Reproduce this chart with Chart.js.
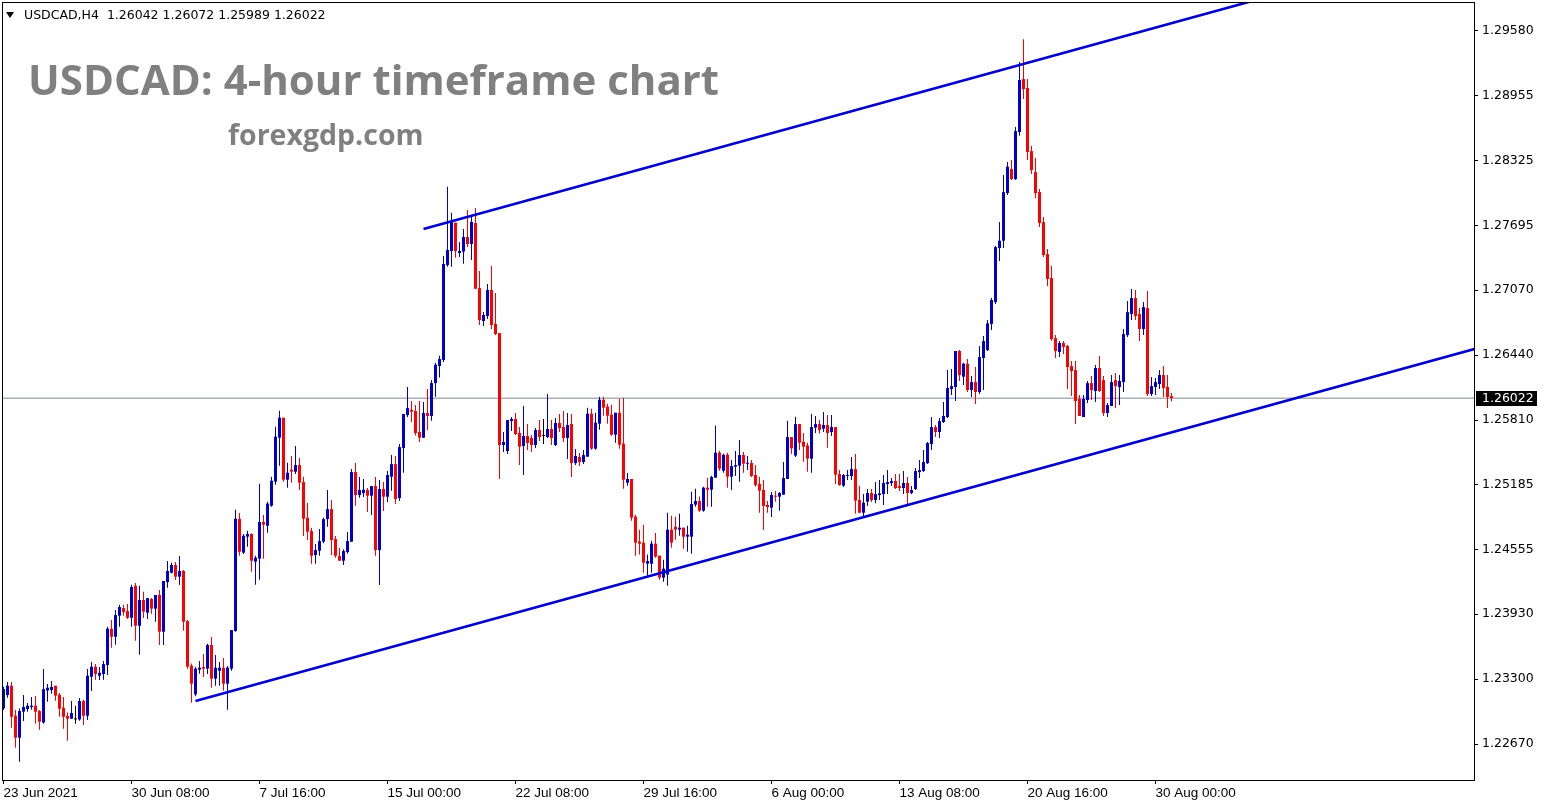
<!DOCTYPE html>
<html>
<head>
<meta charset="utf-8">
<title>USDCAD H4</title>
<script src="https://cdn.jsdelivr.net/npm/chart.js@4.4.1/dist/chart.umd.min.js"></script>
<style>
  html, body { margin: 0; padding: 0; background: #fff; }
  #wrap { position: relative; width: 1546px; height: 807px; overflow: hidden; }
  #chart { position: absolute; left: 0; top: 0; }
  .overlay { position: absolute; white-space: pre; line-height: 1; pointer-events: none; }
  #tri { left: 6px; top: 12px; width: 0; height: 0; border-left: 4px solid transparent; border-right: 4px solid transparent; border-top: 6px solid #000; }
  #header { left: 24px; top: 7px; font: 12.5px "DejaVu Sans", sans-serif; color: #000; }
  #title { left: 28px; top: 50px; font: bold 42px "Open Sans", sans-serif; color: #808080; }
  #site { left: 228px; top: 115px; font: bold 28.5px "Open Sans", sans-serif; color: #808080; }
</style>
</head>
<body>
<div id="wrap">
  <canvas id="chart" width="1546" height="807"></canvas>
  <div id="tri" class="overlay"></div>
  <div id="header" class="overlay"></div>
  <div id="title" class="overlay">USDCAD: 4-hour timeframe chart</div>
  <div id="site" class="overlay">forexgdp.com</div>
</div>
<script>
// USDCAD H4 candles, bar 0 = 23 Jun 2021
const opens = [
  1.23016, 1.23145, 1.23236, 1.22945, 1.22732, 1.22984, 1.23009, 1.23029, 1.23042, 1.22990,
  1.22880, 1.23190, 1.23194, 1.23236, 1.23148, 1.23022, 1.22942, 1.22916, 1.22909, 1.22909,
  1.23087, 1.22945, 1.23323, 1.23420, 1.23332, 1.23349, 1.23436, 1.23788, 1.23710, 1.23914,
  1.23988, 1.23959, 1.23894, 1.24204, 1.23817, 1.24066, 1.23943, 1.24076, 1.23982, 1.24115,
  1.23759, 1.24240, 1.24331, 1.24405, 1.24292, 1.24347, 1.23862, 1.23430, 1.23152, 1.23391,
  1.23417, 1.23401, 1.23630, 1.23304, 1.23381, 1.23410, 1.23255, 1.23401, 1.23766, 1.24854,
  1.24525, 1.24680, 1.24706, 1.24438, 1.24467, 1.24822, 1.24786, 1.24980, 1.25213, 1.25639,
  1.25833, 1.25232, 1.25329, 1.25309, 1.25374, 1.25209, 1.24863, 1.24734, 1.24502, 1.24544,
  1.24631, 1.24850, 1.24947, 1.24657, 1.24492, 1.24447, 1.24531, 1.24631, 1.25306, 1.25083,
  1.25102, 1.25132, 1.25077, 1.25170, 1.24550, 1.25141, 1.25067, 1.25261, 1.25383, 1.25054,
  1.25538, 1.25858, 1.25910, 1.25897, 1.25694, 1.25639, 1.25878, 1.25849, 1.26168, 1.26333,
  1.26392, 1.27312, 1.27448, 1.27723, 1.27429, 1.27442, 1.27584, 1.27516, 1.27719, 1.27089,
  1.26770, 1.26818, 1.27070, 1.26741, 1.26653, 1.25568, 1.25510, 1.25801, 1.25820, 1.25685,
  1.25559, 1.25655, 1.25636, 1.25568, 1.25714, 1.25655, 1.25646, 1.25723, 1.25568, 1.25781,
  1.25743, 1.25636, 1.25772, 1.25393, 1.25452, 1.25403, 1.25455, 1.25872, 1.25533, 1.25775,
  1.26007, 1.25940, 1.25862, 1.25668, 1.25881, 1.25581, 1.25203, 1.25239, 1.24874, 1.24632,
  1.24622, 1.24418, 1.24418, 1.24612, 1.24496, 1.24283, 1.24312, 1.24748, 1.24777, 1.24748,
  1.24767, 1.24680, 1.24680, 1.24990, 1.25026, 1.24932, 1.25155, 1.25135, 1.25252, 1.25494,
  1.25319, 1.25474, 1.25261, 1.25358, 1.25368, 1.25471, 1.25387, 1.25394, 1.25277, 1.25190,
  1.25132, 1.24987, 1.24961, 1.25077, 1.25067, 1.25087, 1.25239, 1.25645, 1.25465, 1.25771,
  1.25600, 1.25562, 1.25436, 1.25736, 1.25771, 1.25726, 1.25762, 1.25694, 1.25742, 1.25287,
  1.25174, 1.25268, 1.25268, 1.25335, 1.25035, 1.24912, 1.25019, 1.25103, 1.25035, 1.25083,
  1.25093, 1.25190, 1.25200, 1.25219, 1.25170, 1.25151, 1.25200, 1.25103, 1.25142, 1.25306,
  1.25316, 1.25393, 1.25577, 1.25742, 1.25694, 1.25791, 1.25839, 1.26110, 1.26130, 1.26479,
  1.26230, 1.26356, 1.26101, 1.26178, 1.26081, 1.26411, 1.26488, 1.26740, 1.26953, 1.27477,
  1.27548, 1.28010, 1.28242, 1.28145, 1.28601, 1.29114, 1.29027, 1.28416, 1.28213, 1.28019,
  1.27728, 1.27418, 1.27186, 1.26604, 1.26469, 1.26556, 1.26527, 1.26333, 1.26294, 1.26014,
  1.25839, 1.26004, 1.26168, 1.26091, 1.26314, 1.26197, 1.25878, 1.25946, 1.26197, 1.26130,
  1.26178, 1.26633, 1.26837, 1.26992, 1.26837, 1.26692, 1.26895, 1.26062, 1.26130, 1.26159,
  1.26246, 1.26130, 1.26042
];
const highs = [
  1.23226, 1.23271, 1.23271, 1.23000, 1.23016, 1.23145, 1.23068, 1.23126, 1.23135, 1.23000,
  1.23397, 1.23252, 1.23281, 1.23236, 1.23164, 1.23126, 1.22977, 1.23087, 1.23042, 1.23116,
  1.23100, 1.23397, 1.23465, 1.23445, 1.23416, 1.23474, 1.23807, 1.23872, 1.23969, 1.24020,
  1.24020, 1.24027, 1.24214, 1.24230, 1.24204, 1.24146, 1.24085, 1.24085, 1.24115, 1.24163,
  1.24250, 1.24444, 1.24428, 1.24434, 1.24492, 1.24357, 1.23872, 1.23452, 1.23420, 1.23475,
  1.23543, 1.23643, 1.23708, 1.23533, 1.23465, 1.23504, 1.23427, 1.23775, 1.24941, 1.24909,
  1.24706, 1.24738, 1.24712, 1.24496, 1.25193, 1.24890, 1.25019, 1.25261, 1.25746, 1.25901,
  1.25833, 1.25397, 1.25461, 1.25558, 1.25442, 1.25261, 1.25006, 1.24767, 1.24608, 1.24754,
  1.24863, 1.25132, 1.25035, 1.24686, 1.24570, 1.24557, 1.24725, 1.25335, 1.25393, 1.25258,
  1.25238, 1.25151, 1.25170, 1.25258, 1.25229, 1.25209, 1.25316, 1.25471, 1.25461, 1.25577,
  1.25868, 1.26130, 1.25994, 1.25955, 1.25994, 1.25984, 1.26110, 1.26197, 1.26365, 1.26433,
  1.27400, 1.28071, 1.27819, 1.27723, 1.27535, 1.27661, 1.27845, 1.27777, 1.27865, 1.27254,
  1.26857, 1.27128, 1.27303, 1.27041, 1.26653, 1.25694, 1.25810, 1.25840, 1.25878, 1.25743,
  1.25946, 1.25772, 1.25665, 1.25733, 1.25810, 1.25820, 1.26062, 1.25810, 1.25830, 1.25869,
  1.25898, 1.25878, 1.25869, 1.25530, 1.25491, 1.25520, 1.25930, 1.25920, 1.25881, 1.26036,
  1.26036, 1.25969, 1.25959, 1.25881, 1.26017, 1.26027, 1.25297, 1.25239, 1.24893, 1.24748,
  1.24796, 1.24506, 1.24641, 1.24715, 1.24496, 1.24457, 1.24912, 1.24883, 1.24874, 1.24903,
  1.24767, 1.24786, 1.25116, 1.25145, 1.25068, 1.25164, 1.25252, 1.25271, 1.25756, 1.25513,
  1.25484, 1.25494, 1.25423, 1.25510, 1.25616, 1.25500, 1.25461, 1.25423, 1.25374, 1.25261,
  1.25229, 1.25025, 1.25113, 1.25122, 1.25113, 1.25403, 1.25804, 1.25645, 1.25842, 1.25771,
  1.25684, 1.25591, 1.25868, 1.25849, 1.25810, 1.25888, 1.25859, 1.25859, 1.25742, 1.25326,
  1.25287, 1.25326, 1.25452, 1.25481, 1.25174, 1.25093, 1.25142, 1.25142, 1.25209, 1.25229,
  1.25277, 1.25325, 1.25248, 1.25287, 1.25287, 1.25316, 1.25258, 1.25170, 1.25345, 1.25422,
  1.25519, 1.25597, 1.25839, 1.25762, 1.25829, 1.25984, 1.26294, 1.26304, 1.26479, 1.26488,
  1.26365, 1.26401, 1.26236, 1.26324, 1.26527, 1.26624, 1.26779, 1.26992, 1.27496, 1.27729,
  1.28184, 1.28310, 1.28329, 1.28649, 1.29279, 1.29500, 1.29114, 1.28465, 1.28349, 1.28048,
  1.27777, 1.27467, 1.27302, 1.26633, 1.26575, 1.26575, 1.26537, 1.26381, 1.26381, 1.26052,
  1.26052, 1.26188, 1.26236, 1.26343, 1.26430, 1.26236, 1.25975, 1.26246, 1.26265, 1.26246,
  1.26692, 1.26963, 1.27079, 1.27070, 1.26895, 1.26953, 1.27060, 1.26227, 1.26217, 1.26294,
  1.26333, 1.26246, 1.26072
];
const lows = [
  1.23000, 1.23119, 1.22829, 1.22635, 1.22499, 1.22893, 1.22984, 1.23003, 1.22867, 1.22809,
  1.22867, 1.23081, 1.23158, 1.23090, 1.22935, 1.22819, 1.22702, 1.22916, 1.22867, 1.22896,
  1.22854, 1.22903, 1.23184, 1.23294, 1.23290, 1.23294, 1.23339, 1.23604, 1.23633, 1.23807,
  1.23914, 1.23881, 1.23807, 1.23672, 1.23536, 1.23891, 1.23881, 1.23934, 1.23856, 1.23630,
  1.23630, 1.24186, 1.24324, 1.24260, 1.24211, 1.23769, 1.23401, 1.23071, 1.23133, 1.23352,
  1.23320, 1.23349, 1.23217, 1.23236, 1.23236, 1.23188, 1.23003, 1.23381, 1.23759, 1.24496,
  1.24512, 1.24583, 1.24341, 1.24215, 1.24263, 1.24467, 1.24719, 1.24970, 1.25184, 1.25368,
  1.25213, 1.25155, 1.25203, 1.25287, 1.25132, 1.24686, 1.24647, 1.24418, 1.24418, 1.24495,
  1.24615, 1.24776, 1.24502, 1.24476, 1.24447, 1.24405, 1.24515, 1.24631, 1.24980, 1.25057,
  1.25064, 1.24918, 1.24889, 1.24495, 1.24211, 1.24928, 1.25015, 1.25125, 1.24996, 1.25025,
  1.25300, 1.25839, 1.25790, 1.25661, 1.25597, 1.25635, 1.25713, 1.25803, 1.26036, 1.26223,
  1.26372, 1.27296, 1.27296, 1.27383, 1.27390, 1.27325, 1.27487, 1.27361, 1.27077, 1.26731,
  1.26721, 1.26789, 1.26692, 1.26634, 1.25239, 1.25500, 1.25481, 1.25704, 1.25665, 1.25374,
  1.25277, 1.25520, 1.25500, 1.25539, 1.25607, 1.25578, 1.25636, 1.25568, 1.25559, 1.25694,
  1.25597, 1.25432, 1.25258, 1.25374, 1.25365, 1.25384, 1.25455, 1.25523, 1.25523, 1.25717,
  1.25852, 1.25775, 1.25659, 1.25591, 1.25533, 1.25145, 1.25174, 1.24835, 1.24496, 1.24506,
  1.24331, 1.24302, 1.24331, 1.24476, 1.24263, 1.24244, 1.24205, 1.24573, 1.24651, 1.24690,
  1.24564, 1.24535, 1.24515, 1.24971, 1.24922, 1.24922, 1.24971, 1.24971, 1.25252, 1.25319,
  1.25300, 1.25155, 1.25132, 1.25268, 1.25213, 1.25300, 1.25326, 1.25258, 1.25164, 1.24912,
  1.24744, 1.24912, 1.24870, 1.25019, 1.24932, 1.25087, 1.25239, 1.25481, 1.25452, 1.25520,
  1.25406, 1.25310, 1.25300, 1.25684, 1.25678, 1.25694, 1.25542, 1.25655, 1.25190, 1.25174,
  1.25161, 1.25229, 1.25229, 1.24903, 1.24906, 1.24880, 1.24977, 1.25016, 1.25003, 1.25035,
  1.24986, 1.25093, 1.25170, 1.25142, 1.25122, 1.25093, 1.24996, 1.25093, 1.25132, 1.25248,
  1.25306, 1.25384, 1.25519, 1.25645, 1.25636, 1.25781, 1.25829, 1.26052, 1.25994, 1.26188,
  1.26149, 1.26081, 1.26033, 1.25965, 1.26062, 1.26101, 1.26479, 1.26682, 1.26934, 1.27351,
  1.27477, 1.27990, 1.28136, 1.28136, 1.28565, 1.28920, 1.28329, 1.28194, 1.27961, 1.27680,
  1.27389, 1.27108, 1.26575, 1.26411, 1.26420, 1.26449, 1.26110, 1.26043, 1.25771, 1.25849,
  1.25839, 1.25975, 1.26004, 1.25984, 1.26083, 1.25849, 1.25839, 1.25946, 1.25926, 1.25955,
  1.26083, 1.26614, 1.26779, 1.26779, 1.26575, 1.26633, 1.26043, 1.26043, 1.26052, 1.26110,
  1.26033, 1.25926, 1.25989
];
const closes = [
  1.23203, 1.23236, 1.22935, 1.22732, 1.22990, 1.23029, 1.23042, 1.23042, 1.22984, 1.22887,
  1.23203, 1.23216, 1.23223, 1.23139, 1.23013, 1.22935, 1.22916, 1.22971, 1.22909, 1.23087,
  1.22945, 1.23332, 1.23420, 1.23349, 1.23361, 1.23445, 1.23788, 1.23710, 1.23920, 1.23998,
  1.23949, 1.23894, 1.24192, 1.23817, 1.24066, 1.23953, 1.24085, 1.23982, 1.24115, 1.23759,
  1.24250, 1.24347, 1.24405, 1.24292, 1.24347, 1.23856, 1.23420, 1.23255, 1.23401, 1.23410,
  1.23401, 1.23630, 1.23304, 1.23410, 1.23410, 1.23255, 1.23410, 1.23775, 1.24854, 1.24534,
  1.24689, 1.24706, 1.24447, 1.24476, 1.24822, 1.24796, 1.25000, 1.25222, 1.25649, 1.25833,
  1.25232, 1.25300, 1.25310, 1.25374, 1.25203, 1.24854, 1.24728, 1.24495, 1.24550, 1.24637,
  1.24850, 1.24947, 1.24647, 1.24495, 1.24447, 1.24541, 1.24637, 1.25306, 1.25083, 1.25132,
  1.25135, 1.25077, 1.25170, 1.24550, 1.25141, 1.25067, 1.25277, 1.25383, 1.25044, 1.25548,
  1.25868, 1.25926, 1.25891, 1.25684, 1.25639, 1.25878, 1.25849, 1.26168, 1.26346, 1.26401,
  1.27322, 1.27458, 1.27739, 1.27448, 1.27448, 1.27584, 1.27516, 1.27729, 1.27083, 1.26779,
  1.26828, 1.27070, 1.26731, 1.26644, 1.25568, 1.25597, 1.25810, 1.25820, 1.25675, 1.25552,
  1.25655, 1.25588, 1.25568, 1.25714, 1.25646, 1.25655, 1.25723, 1.25636, 1.25781, 1.25733,
  1.25636, 1.25762, 1.25393, 1.25462, 1.25403, 1.25471, 1.25872, 1.25533, 1.25785, 1.26007,
  1.25930, 1.25852, 1.25668, 1.25881, 1.25571, 1.25232, 1.25239, 1.24864, 1.24622, 1.24612,
  1.24428, 1.24444, 1.24612, 1.24486, 1.24283, 1.24370, 1.24748, 1.24622, 1.24748, 1.24767,
  1.24680, 1.24699, 1.24996, 1.25026, 1.24932, 1.25155, 1.25135, 1.25258, 1.25494, 1.25339,
  1.25474, 1.25261, 1.25364, 1.25374, 1.25471, 1.25387, 1.25397, 1.25268, 1.25180, 1.25126,
  1.24977, 1.24967, 1.25084, 1.25067, 1.25103, 1.25248, 1.25645, 1.25536, 1.25771, 1.25591,
  1.25552, 1.25436, 1.25742, 1.25771, 1.25713, 1.25762, 1.25684, 1.25742, 1.25281, 1.25180,
  1.25277, 1.25277, 1.25335, 1.25029, 1.24912, 1.25009, 1.25103, 1.25035, 1.25093, 1.25099,
  1.25200, 1.25209, 1.25219, 1.25151, 1.25151, 1.25200, 1.25103, 1.25132, 1.25316, 1.25325,
  1.25403, 1.25587, 1.25742, 1.25694, 1.25800, 1.25849, 1.26120, 1.26139, 1.26479, 1.26246,
  1.26356, 1.26101, 1.26178, 1.26081, 1.26420, 1.26575, 1.26747, 1.26973, 1.27486, 1.27548,
  1.28019, 1.28265, 1.28145, 1.28610, 1.29105, 1.29017, 1.28407, 1.28232, 1.28009, 1.27719,
  1.27409, 1.27176, 1.26595, 1.26478, 1.26556, 1.26517, 1.26323, 1.26285, 1.25994, 1.25849,
  1.26014, 1.26168, 1.26101, 1.26314, 1.26091, 1.25878, 1.25955, 1.26178, 1.26139, 1.26188,
  1.26643, 1.26856, 1.26992, 1.26818, 1.26692, 1.26905, 1.26062, 1.26139, 1.26178, 1.26246,
  1.26120, 1.26033, 1.26022
];

// time axis labels (bar index -> text)
const xTickBars = [0, 32, 64, 96, 128, 160, 192, 224, 256, 288];
const xTickLabels = ['23 Jun 2021', '30 Jun 08:00', '7 Jul 16:00', '15 Jul 00:00', '22 Jul 08:00',
  '29 Jul 16:00', '6 Aug 00:00', '13 Aug 08:00', '20 Aug 16:00', '30 Aug 00:00'];

// price axis labels
const yTickValues = [1.29580, 1.28955, 1.28325, 1.27695, 1.27070, 1.26440,
  1.25810, 1.25185, 1.24555, 1.23930, 1.23300, 1.22670];

// channel trend lines (bar index, price)
const upperLineBars = [105, 370];
const upperLinePrices = [1.27662, 1.30487];
const lowerLineBars = [48, 370];
const lowerLinePrices = [1.23088, 1.26523];

const BULL = '#0000cd';
const BEAR = '#ff0000';
const DOJI = '#000000';
const X_MIN = -0.375;
const X_MAX = 367.625;

const last = closes.length - 1;
const lastClose = closes[last];

document.getElementById('header').textContent =
  'USDCAD,H4  ' + [opens[last], highs[last], lows[last], closes[last]].map(v => v.toFixed(5)).join(' ');

const candleColors = opens.map((o, i) => closes[i] > o ? BULL : (closes[i] < o ? BEAR : DOJI));
const wickData = opens.map((o, i) => ({ x: i, y: [lows[i], highs[i]] }));
const bodyData = opens.map((o, i) => ({ x: i, y: [Math.min(o, closes[i]), Math.max(o, closes[i])] }));

// frame round the plot and the black last-price tag
const framePlugin = {
  id: 'frame',
  afterDraw(chart) {
    const { ctx, chartArea: a } = chart;
    ctx.save();
    ctx.strokeStyle = '#000';
    ctx.lineWidth = 1;
    ctx.strokeRect(a.left + 0.5, a.top + 0.5, a.right - a.left, a.bottom - a.top);

    const y = Math.round(chart.scales.y.getPixelForValue(lastClose));
    ctx.fillStyle = '#000';
    ctx.fillRect(a.right + 2, y - 7, 61, 15);
    ctx.fillStyle = '#fff';
    ctx.font = '12.5px "DejaVu Sans"';
    ctx.textBaseline = 'middle';
    ctx.textAlign = 'left';
    ctx.fillText(lastClose.toFixed(5), a.right + 8, y + 1);
    ctx.restore();
  }
};

const ctx = document.getElementById('chart').getContext('2d');
new Chart(ctx, {
  type: 'bar',
  data: {
    datasets: [
      {
        type: 'line',
        data: upperLineBars.map((b, i) => ({ x: b, y: upperLinePrices[i] })),
        borderColor: BULL,
        borderWidth: 2.6,
        pointRadius: 0,
        fill: false,
        clip: 0,
        order: 0
      },
      {
        type: 'line',
        data: lowerLineBars.map((b, i) => ({ x: b, y: lowerLinePrices[i] })),
        borderColor: BULL,
        borderWidth: 2.6,
        pointRadius: 0,
        fill: false,
        clip: 0,
        order: 0
      },
      {
        data: bodyData,
        backgroundColor: candleColors,
        grouped: false,
        barThickness: 3,
        maxBarThickness: 3,
        minBarLength: 1,
        inflateAmount: 0,
        borderWidth: 0,
        order: 1
      },
      {
        data: wickData,
        backgroundColor: candleColors,
        grouped: false,
        barThickness: 1,
        maxBarThickness: 1,
        minBarLength: 1,
        inflateAmount: 0,
        borderWidth: 0,
        order: 2
      },
      {
        type: 'line',
        data: [{ x: X_MIN, y: lastClose }, { x: X_MAX, y: lastClose }],
        borderColor: '#7f8893',
        borderWidth: 1,
        pointRadius: 0,
        fill: false,
        clip: 0,
        order: 3
      }
    ]
  },
  options: {
    responsive: false,
    animation: false,
    devicePixelRatio: 1,
    layout: { padding: { left: 2, top: 2, right: 0, bottom: 0 } },
    plugins: {
      legend: { display: false },
      tooltip: { enabled: false },
      title: { display: false }
    },
    scales: {
      x: {
        type: 'linear',
        min: X_MIN,
        max: X_MAX,
        offset: false,
        border: { display: false },
        grid: { display: true, drawOnChartArea: false, drawTicks: true, tickLength: 4, color: '#000', offset: false },
        afterBuildTicks: scale => { scale.ticks = xTickBars.map(v => ({ value: v })); },
        afterFit: scale => { scale.height = 27; scale.paddingLeft = 0; scale.paddingRight = 0; },
        ticks: {
          autoSkip: false,
          maxRotation: 0,
          align: 'start',
          padding: 1,
          color: '#000',
          font: { family: '"Liberation Sans", Arial, sans-serif', size: 13.5 },
          callback: (v, i) => xTickLabels[i]
        }
      },
      y: {
        position: 'right',
        min: 1.22322,
        max: 1.29861,
        border: { display: false },
        grid: { display: true, drawOnChartArea: false, drawTicks: true, tickLength: 4, color: '#000' },
        afterBuildTicks: scale => { scale.ticks = yTickValues.map(v => ({ value: v })); },
        afterFit: scale => { scale.width = 72; scale.paddingTop = 0; scale.paddingBottom = 0; },
        ticks: {
          padding: 4,
          color: '#000',
          font: { family: '"DejaVu Sans", sans-serif', size: 12.5 },
          callback: v => v.toFixed(5)
        }
      }
    }
  },
  plugins: [framePlugin]
});
</script>
</body>
</html>
